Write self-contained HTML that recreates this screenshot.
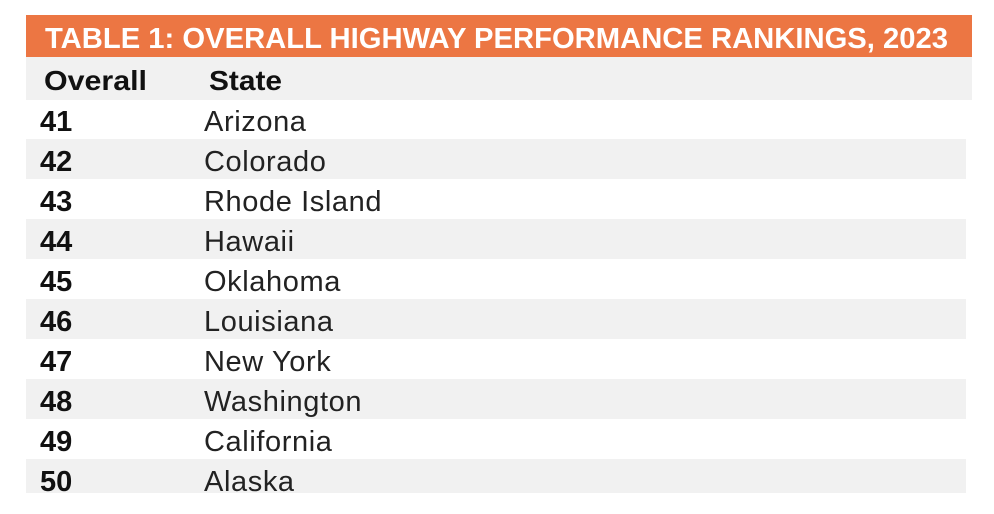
<!DOCTYPE html>
<html><head><meta charset="utf-8"><style>
html,body{margin:0;padding:0;background:#fff;width:994px;height:514px;overflow:hidden}
svg{display:block;font-family:"Liberation Sans",sans-serif}
</style></head><body>
<svg width="994" height="514" viewBox="0 0 994 514">
<rect x="26" y="15" width="946" height="42" fill="#ec7643"/>
<text x="45" y="48" font-size="29" font-weight="bold" fill="#fff" textLength="903" lengthAdjust="spacingAndGlyphs">TABLE 1: OVERALL HIGHWAY PERFORMANCE RANKINGS, 2023</text>
<rect x="26" y="57" width="946" height="43" fill="#f1f1f1"/>
<text x="44" y="90" font-size="28" font-weight="bold" fill="#111" textLength="103" lengthAdjust="spacingAndGlyphs">Overall</text>
<text x="209" y="90" font-size="28" font-weight="bold" fill="#111" textLength="73" lengthAdjust="spacingAndGlyphs">State</text>
<g id="rows"></g>
</svg>
<script>
const ranks = [41,42,43,44,45,46,47,48,49,50];
const states = ["Arizona","Colorado","Rhode Island","Hawaii","Oklahoma","Louisiana","New York","Washington","California","Alaska"];
const g = document.getElementById('rows');
const NS = 'http://www.w3.org/2000/svg';
ranks.forEach((r,i)=>{
  const y0 = 100 + i*40;
  if(i%2===1){
    const rect=document.createElementNS(NS,'rect');
    rect.setAttribute('x',26);rect.setAttribute('y',y0-1);
    rect.setAttribute('width',940);rect.setAttribute('height',i===9?34:40);
    rect.setAttribute('fill','#f1f1f1');
    
    
    g.appendChild(rect);
  }
  const t1=document.createElementNS(NS,'text');
  t1.setAttribute('x',40);t1.setAttribute('y',y0+31);
  t1.setAttribute('font-size','29');t1.setAttribute('font-weight','bold');t1.setAttribute('fill','#111');
  t1.textContent=r;
  
  
  g.appendChild(t1);
  const t2=document.createElementNS(NS,'text');
  t2.setAttribute('x',204);t2.setAttribute('y',y0+31);
  t2.setAttribute('font-size','29');t2.setAttribute('fill','#222');
  t2.setAttribute('letter-spacing','0.6');
  t2.textContent=states[i];
  
  
  g.appendChild(t2);
});
</script>
</body></html>
